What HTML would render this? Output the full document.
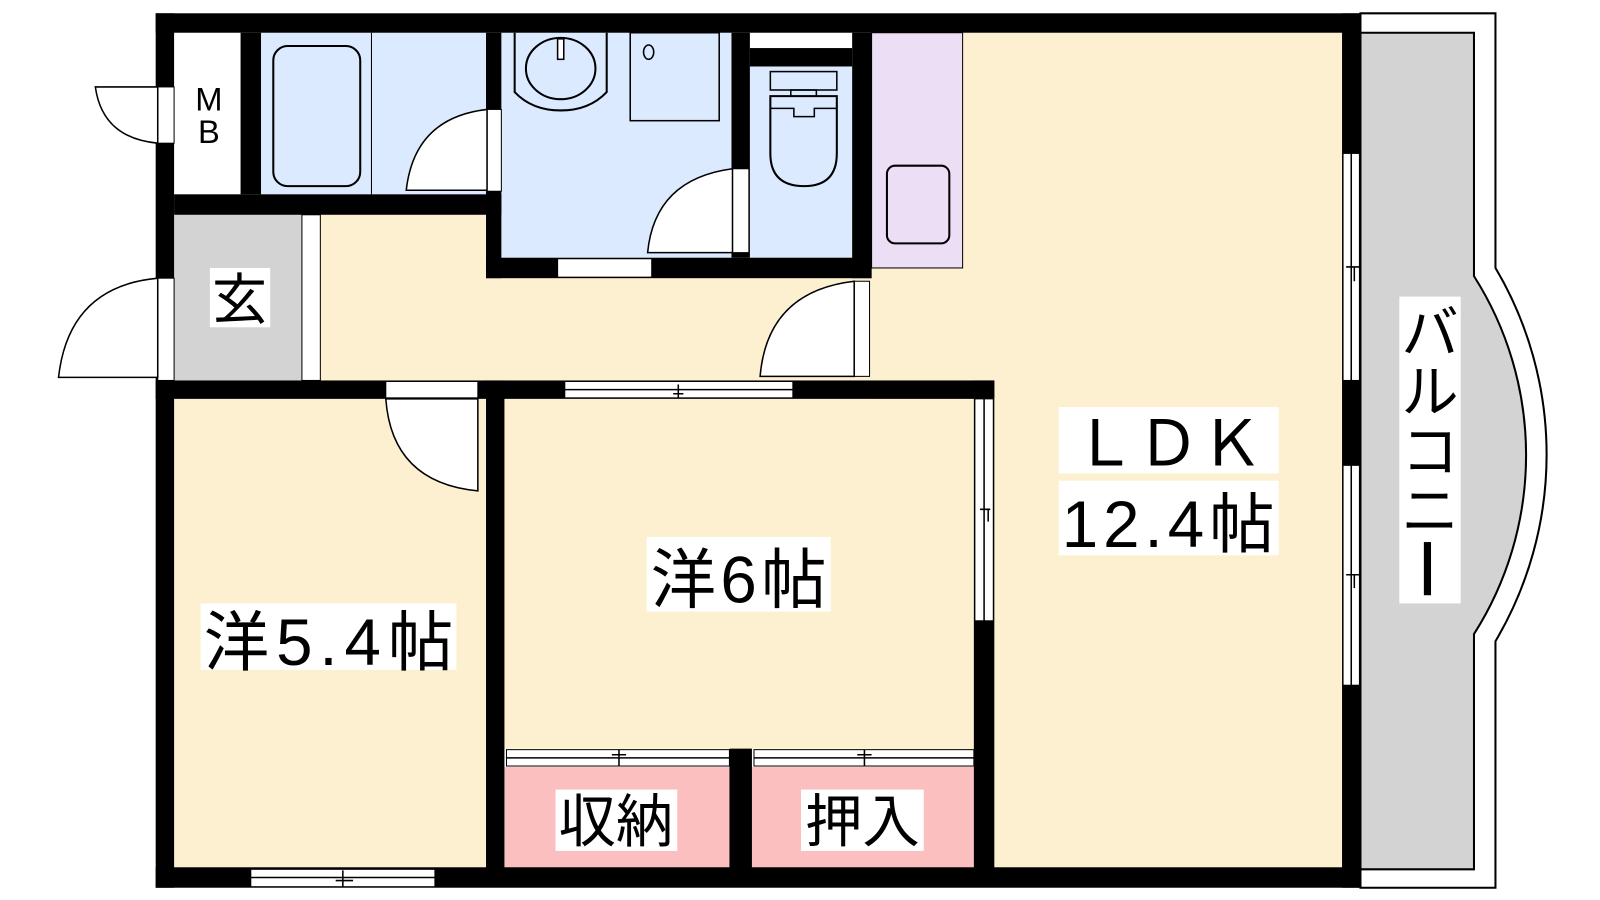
<!DOCTYPE html>
<html><head><meta charset="utf-8"><style>
html,body{margin:0;padding:0;background:#fff;width:1600px;height:900px;overflow:hidden}
svg{display:block}
text{font-family:"Liberation Sans","Noto Sans CJK JP",sans-serif;fill:#000}
</style></head><body>
<svg width="1600" height="900" viewBox="0 0 1564 880" xmlns="http://www.w3.org/2000/svg">
<!-- balcony -->
<path d="M1330 13 H1462 V262 A358 358 0 0 1 1462 627 V868 H1330 Z" fill="#fff" stroke="#000" stroke-width="2"/>
<path d="M1330 32 H1441 V270 A326 326 0 0 1 1441 620 V850 H1330 Z" fill="#d3d3d3" stroke="#000" stroke-width="2"/>
<!-- floor fills -->
<rect x="852" y="32" width="460" height="818" fill="#fdf0d0"/>
<rect x="295" y="210" width="557" height="162" fill="#fdf0d0"/>
<rect x="170" y="390" width="305" height="460" fill="#fdf0d0"/>
<rect x="493" y="390" width="459" height="342" fill="#fdf0d0"/>
<rect x="170" y="32" width="65" height="158" fill="#fff"/>
<rect x="255" y="32" width="220" height="158" fill="#dbeafe"/>
<rect x="490" y="32" width="225" height="220" fill="#dbeafe"/>
<rect x="733" y="65" width="100" height="187" fill="#dbeafe"/>
<rect x="733" y="32" width="100" height="15" fill="#fff"/>
<rect x="852" y="32" width="89" height="230" fill="#ecdff5" stroke="#000" stroke-width="1"/>
<rect x="170" y="210" width="125" height="162" fill="#d3d3d3"/>
<rect x="295" y="210" width="18" height="162" fill="#fff" stroke="#000" stroke-width="1"/>
<rect x="493" y="750" width="220" height="100" fill="#fbbfbf"/>
<rect x="735" y="750" width="217" height="100" fill="#fbbfbf"/>
<!-- fixtures -->
<rect x="267" y="45" width="85" height="137" rx="14" fill="none" stroke="#000" stroke-width="2"/>
<line x1="363" y1="32" x2="363" y2="190" stroke="#000" stroke-width="1"/>
<path d="M503 32 V90 Q520 108 548 108 Q576 108 593 90 V32" fill="none" stroke="#000" stroke-width="2"/>
<ellipse cx="548" cy="67" rx="34" ry="30" fill="none" stroke="#000" stroke-width="2"/>
<rect x="545" y="38" width="6" height="20" fill="#fff" stroke="#000" stroke-width="1.5"/>
<rect x="616" y="32" width="87" height="86" fill="none" stroke="#000" stroke-width="1.5"/>
<ellipse cx="634" cy="51" rx="5" ry="7" fill="none" stroke="#000" stroke-width="1.5"/>
<rect x="753" y="70" width="65" height="18" fill="none" stroke="#000" stroke-width="1.5"/>
<rect x="773" y="88" width="25" height="6" fill="none" stroke="#000" stroke-width="1.5"/>
<path d="M753 94 H818 V150 Q818 182 786 182 Q753 182 753 150 Z" fill="none" stroke="#000" stroke-width="2"/>
<path d="M753 106 H776 V114 H796 V106 H818" fill="none" stroke="#000" stroke-width="1.5"/>
<rect x="867" y="162" width="61" height="76" rx="8" fill="none" stroke="#000" stroke-width="2"/>
<!-- walls -->
<g fill="#000">
<rect x="152" y="13" width="1178" height="19"/>
<rect x="152" y="13" width="18" height="855"/>
<rect x="152" y="848" width="1178" height="20"/>
<rect x="1312" y="13" width="18" height="855"/>
<rect x="235" y="32" width="20" height="158"/>
<rect x="170" y="190" width="320" height="20"/>
<rect x="475" y="32" width="15" height="240"/>
<rect x="715" y="32" width="18" height="220"/>
<rect x="733" y="47" width="100" height="18"/>
<rect x="833" y="32" width="19" height="240"/>
<rect x="475" y="252" width="377" height="20"/>
<rect x="152" y="372" width="820" height="18"/>
<rect x="475" y="372" width="18" height="478"/>
<rect x="952" y="372" width="20" height="478"/>
<rect x="713" y="732" width="22" height="118"/>
</g>
<!-- openings -->
<g fill="#fff" stroke="#000" stroke-width="1">
<rect x="154" y="85" width="16" height="55"/>
<rect x="154" y="272" width="16" height="100"/>
<rect x="476" y="107" width="14" height="80"/>
<rect x="716" y="165" width="16" height="82"/>
<rect x="545" y="253" width="92" height="18"/>
<rect x="835" y="275" width="15" height="93"/>
<rect x="377" y="373" width="90" height="16"/>
<rect x="552" y="373" width="223" height="16"/>
<rect x="953" y="390" width="18" height="217"/>
<rect x="245" y="850" width="180" height="17"/>
<rect x="1313" y="150" width="16" height="222"/>
<rect x="1313" y="455" width="16" height="215"/>
<rect x="495" y="733" width="218" height="16"/>
<rect x="737" y="733" width="215" height="16"/>
</g>
<g stroke="#000" stroke-width="1.5" fill="none">
<path d="M552 381 H775 M663 376 V389 M658 385 H668"/>
<path d="M962 390 V607 M958 498 H968 M966 498 V510"/>
<path d="M245 858 H425 M335 851 V867 M328 861 H345"/>
<path d="M1321 150 V372 M1316 261 H1329 M1324 261 V275 M1321 455 V670 M1316 562 H1329 M1324 562 V575"/>
<path d="M495 741 H713 M605 733 V749 M598 738 H612 M737 741 H952 M845 733 V749 M838 738 H852"/>
</g>
<!-- door swings -->
<g fill="#fff" stroke="#000" stroke-width="1.5">
<path d="M154 85 H93 Q100 135 154 140 Z"/>
<path d="M154 272 Q67 280 57 369 H154 Z"/>
<path d="M476 107 Q405 115 397 186 H476 Z"/>
<path d="M716 165 Q640 175 633 247 H716 Z"/>
<path d="M835 275 Q750 285 743 368 H835 Z"/>
<path d="M377 390 Q383 472 467 480 V390 Z"/>
</g>
<!-- labels -->
<g font-size="60">
<text x="204" y="108" font-size="32" text-anchor="middle">M</text>
<text x="204" y="140" font-size="32" text-anchor="middle">B</text>
<rect x="205" y="262" width="59" height="58" fill="#fff"/>
<text x="234" y="312" font-size="54" text-anchor="middle">玄</text>
<rect x="1035" y="398" width="215" height="65" fill="#fff"/>
<text x="1142" y="455" text-anchor="middle" font-size="62">ＬＤＫ</text>
<rect x="1035" y="470" width="215" height="73" fill="#fff"/>
<text x="1142" y="535" text-anchor="middle" font-size="64" textLength="208">12.4帖</text>
<rect x="632" y="525" width="180" height="73" fill="#fff"/>
<text x="722" y="589" text-anchor="middle" font-size="64" textLength="172">洋6帖</text>
<rect x="196" y="590" width="250" height="65" fill="#fff"/>
<text x="321" y="650" text-anchor="middle" font-size="64" textLength="244">洋5.4帖</text>
<rect x="543" y="772" width="119" height="60" fill="#fff"/>
<text x="602" y="823" text-anchor="middle" font-size="56">収納</text>
<rect x="783" y="772" width="120" height="60" fill="#fff"/>
<text x="843" y="823" text-anchor="middle" font-size="56">押入</text>
<rect x="1368" y="290" width="60" height="300" fill="#fff"/>
<text x="1398" y="345" text-anchor="middle" font-size="56">バ</text>
<text x="1398" y="403" text-anchor="middle" font-size="56">ル</text>
<text x="1398" y="461" text-anchor="middle" font-size="56">コ</text>
<text x="1398" y="519" text-anchor="middle" font-size="56">ニ</text>
<rect x="1392" y="530" width="7" height="52" fill="#000"/>
</g>
</svg>
</body></html>
